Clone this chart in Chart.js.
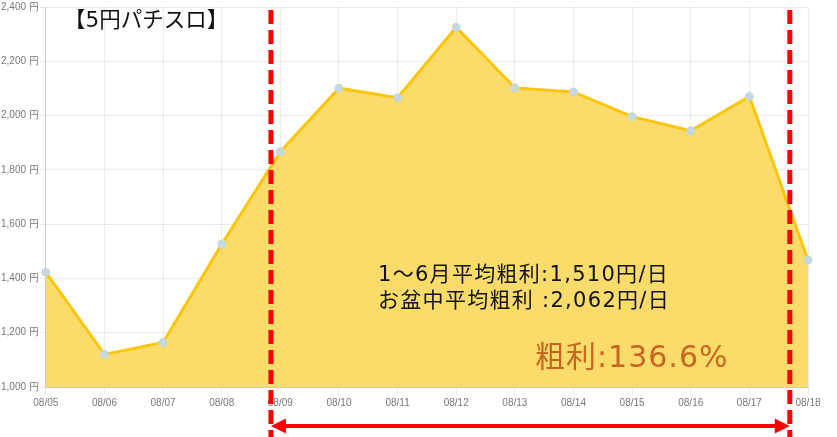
<!DOCTYPE html>
<html>
<head>
<meta charset="utf-8">
<script src="https://cdn.jsdelivr.net/npm/chart.js@4"></script>
<style>
  body { margin: 0; background: #fff; }
  #wrap { width: 837px; height: 437px; }
</style>
</head>
<body>
<div id="wrap"><canvas id="profitChart" width="837" height="437"></canvas></div>
<script>
// data
const days = ['08/05', '08/06', '08/07', '08/08', '08/09', '08/10', '08/11', '08/12', '08/13', '08/14', '08/15', '08/16', '08/17', '08/18'];
const profit = [1423, 1120, 1164, 1526, 1867, 2101, 2066, 2325, 2102, 2087, 1996, 1944, 2070, 1468];
const yTicks = [1000, 1200, 1400, 1600, 1800, 2000, 2200, 2400];

const titleText = '【5円パチスロ】';
const noteLines = ['1〜6月平均粗利:1,510円/日', 'お盆中平均粗利 :2,062円/日'];
const rateText = '粗利:136.6%';

const jpFont = '"DejaVu Sans", "Noto Sans CJK JP", sans-serif';

// draws the red markers and the texts on top of the chart
const overlayPlugin = {
  id: 'overlay',
  afterDraw(chart) {
    const ctx = chart.ctx;
    const x = chart.scales.x;
    const left = x.getPixelForValue(3.84);
    const right = x.getPixelForValue(12.69);
    ctx.save();

    // dashed lines
    ctx.strokeStyle = '#ff0000';
    ctx.lineWidth = 5;
    ctx.setLineDash([14, 6]);
    [left, right].forEach(function(px) {
      ctx.beginPath();
      ctx.moveTo(px, 10);
      ctx.lineTo(px, 437);
      ctx.stroke();
    });
    ctx.setLineDash([]);

    // double arrow
    const ay = 426;
    ctx.lineWidth = 4;
    ctx.beginPath();
    ctx.moveTo(left + 12, ay);
    ctx.lineTo(right - 12, ay);
    ctx.stroke();
    ctx.fillStyle = '#ff0000';
    ctx.beginPath();
    ctx.moveTo(left, ay);
    ctx.lineTo(left + 15, ay - 7.5);
    ctx.lineTo(left + 15, ay + 7.5);
    ctx.closePath();
    ctx.fill();
    ctx.beginPath();
    ctx.moveTo(right, ay);
    ctx.lineTo(right - 15, ay - 7.5);
    ctx.lineTo(right - 15, ay + 7.5);
    ctx.closePath();
    ctx.fill();

    // texts
    ctx.textBaseline = 'middle';
    ctx.textAlign = 'left';
    ctx.fillStyle = '#111';
    ctx.font = '21.5px ' + jpFont;
    ctx.fillText(titleText, 64, 21);
    ctx.font = '21px ' + jpFont;
    ctx.letterSpacing = '1.3px';
    ctx.fillText(noteLines[0], 378, 276);
    ctx.fillText(noteLines[1], 378, 302);
    ctx.fillStyle = '#c9651f';
    ctx.font = '30px ' + jpFont;
    ctx.letterSpacing = '1px';
    ctx.fillText(rateText, 535, 359);
    ctx.restore();
  }
};

const ctx = document.getElementById('profitChart').getContext('2d');
new Chart(ctx, {
  type: 'line',
  data: {
    labels: days,
    datasets: [{
      data: profit,
      borderColor: '#fdc50a',
      borderWidth: 3,
      backgroundColor: 'rgba(250,212,75,0.82)',
      fill: 'origin',
      tension: 0,
      pointRadius: 3,
      pointBackgroundColor: '#c5d8da',
      pointBorderColor: '#c5d8da'
    }]
  },
  options: {
    responsive: false,
    animation: false,
    layout: { padding: { top: 0, right: 29, bottom: 26, left: 0 } },
    plugins: {
      legend: { display: false },
      tooltip: { enabled: false }
    },
    scales: {
      x: {
        grid: { color: 'rgba(0,0,0,0.08)', tickLength: 8 },
        border: { color: '#ccc' },
        ticks: {
          color: '#777',
          font: { family: 'Liberation Sans, Arial, sans-serif', size: 10 },
          maxRotation: 0,
          autoSkip: false,
          padding: 2
        }
      },
      y: {
        min: 1000,
        max: 2400,
        afterBuildTicks: function(axis) {
          axis.ticks = yTicks.map(function(v) { return { value: v }; });
        },
        grid: { color: 'rgba(0,0,0,0.08)', tickLength: 6 },
        border: { color: '#ccc' },
        ticks: {
          color: '#777',
          font: { family: 'Liberation Sans, Arial, sans-serif', size: 10 },
          padding: 1,
          callback: function(v) { return v.toLocaleString('en-US') + ' 円'; }
        }
      }
    }
  },
  plugins: [overlayPlugin]
});
</script>
</body>
</html>
